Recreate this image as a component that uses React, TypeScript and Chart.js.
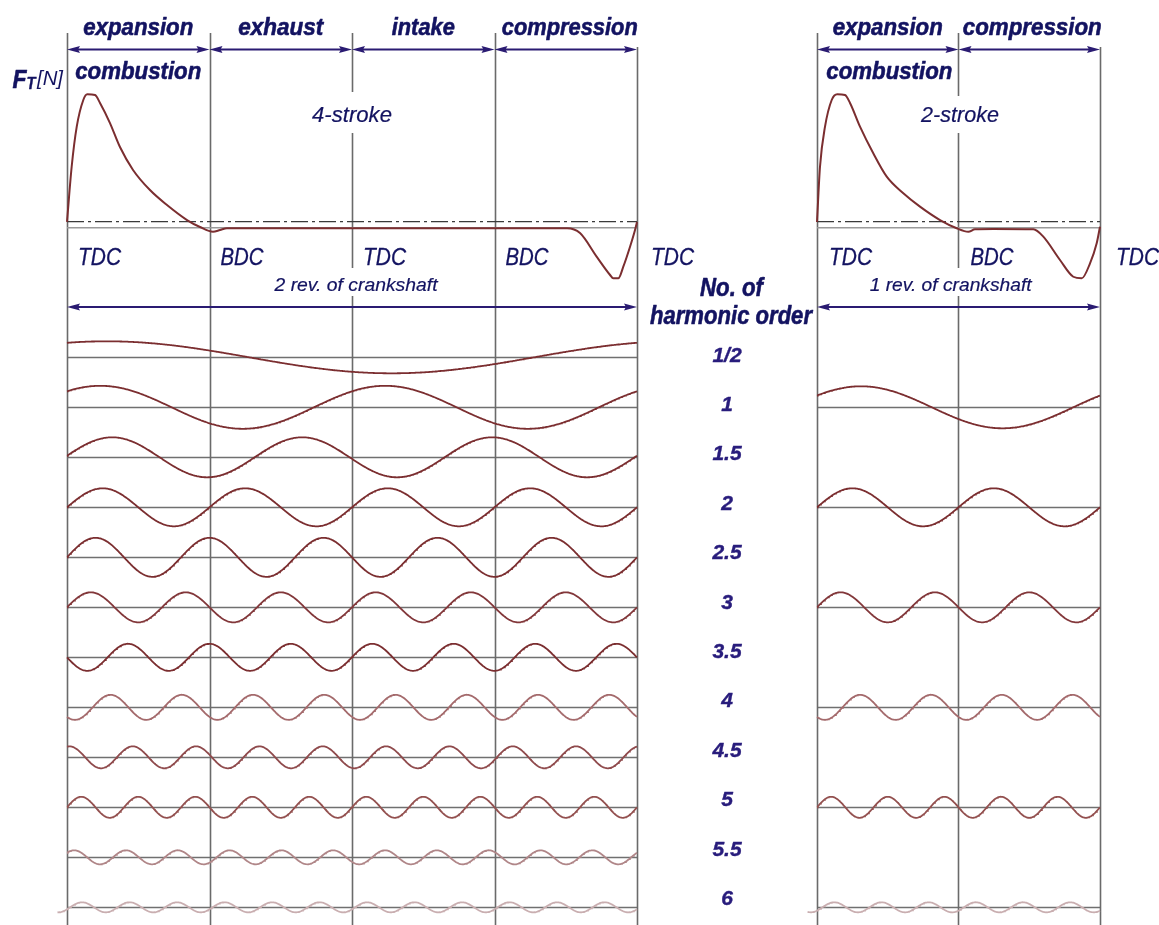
import React, { useEffect, useRef } from 'react';
import { Chart, registerables } from 'chart.js';

Chart.register(...registerables);

// ---- data -------------------------------------------------------------

// dead centres along the crank angle (degrees)
const deadCentres4 = [0, 180, 360, 540, 720];
const deadCentreLabels4 = ['TDC', 'BDC', 'TDC', 'BDC', 'TDC'];
const deadCentres2 = [0, 180, 360];
const deadCentreLabels2 = ['TDC', 'BDC', 'TDC'];

const strokes4 = ['expansion', 'exhaust', 'intake', 'compression'];
const strokes2 = ['expansion', 'compression'];

// tangential force of one cylinder, % of its peak, over the crank angle
const force4Angle = [0, 5.9, 12.3, 20.6, 25.6, 35.4, 41.7, 54.3, 66.9, 83.4, 104.8, 126.3, 151.6, 168, 184.4, 193.3, 202.1, 400, 631.6, 648, 669, 686, 690, 696.4, 702.7, 711.2, 717.5, 720];
const force4Value = [4.3, 45.5, 75.4, 95.3, 99.6, 99.0, 93.1, 78.1, 60.2, 43.1, 28.1, 16.9, 5.7, 0.5, -3.0, -1.7, -0.4, -0.4, -0.4, -4, -21.6, -35.3, -37.8, -37.8, -29.1, -14.2, -1.7, 4.3];

const force2Angle = [0, 3.8, 10.2, 18.7, 25.8, 35.6, 42, 54.7, 71.6, 88.7, 109.8, 131, 156.5, 177.7, 192.5, 201, 224.3, 275.2, 287.9, 309.1, 326, 336.7, 347.3, 355.8, 360];
const force2Value = [4.3, 45.5, 75.4, 95.3, 99.6, 99.0, 93.1, 75.4, 55.5, 38.1, 25.7, 15.7, 5.7, -0.4, -3.0, -1.2, -1.0, -1.2, -6.7, -24.1, -36.6, -37.8, -26.6, -11.6, 0.7];

const meanForce = 4.5;

// harmonic components: order, amplitude (in row heights), crank angle of first crest (deg)
const orders4 = [0.5, 1, 1.5, 2, 2.5, 3, 3.5, 4, 4.5, 5, 5.5, 6];
const orderLabels = ['1/2', '1', '1.5', '2', '2.5', '3', '3.5', '4', '4.5', '5', '5.5', '6'];
const amplitude4 = [0.32, 0.43, 0.4, 0.38, 0.39, 0.3, 0.27, 0.25, 0.22, 0.21, 0.14, 0.1];
const crest4 = [50, 42, 57, 45, 36, 30, 77, 55, 83, 18, 9, 19];

const orders2 = [1, 2, 3, 4, 5, 6];
const amplitude2 = [0.42, 0.38, 0.3, 0.25, 0.21, 0.1];
const crest2 = [56, 45, 30, 55, 18, 22];

// ---- layout -----------------------------------------------------------

const W = 1159;
const H = 925;
const L0 = 67; // 4-stroke panel, TDC .. TDC
const L1 = 637;
const R0 = 817; // 2-stroke panel
const R1 = 1100;
const ZERO_Y = 227.7; // force zero line
const PEAK_Y = 93.7; // force = 100 %
const ROW0_Y = 357.3; // first harmonic baseline
const ROW_STEP = 50;

const HEAD = '#131361';
const NUM = '#281c7c';
const ARROW = '#2a1b72';
const CURVE = '#7b2e30';
const FRAME = '#6a6a6a';

const rowColours4 = ['#7b2e30', '#7b2e30', '#7b2e30', '#7b2e30', '#7b2e30', '#82373a', '#7b2e30', '#a46a6c', '#8f4a4c', '#93504f', '#b08688', '#c9aeb0'];
const rowColours2 = ['#7b2e30', '#7b2e30', '#82373a', '#a46a6c', '#93504f', '#c9aeb0'];

const fontFamily = '"Liberation Sans", Arial, sans-serif';

function sinusoid(order: number, amp: number, crest: number, row: number, from: number, to: number) {
  const pts: { x: number; y: number }[] = [];
  for (let a = from; a <= to + 1e-9; a += 1) {
    pts.push({ x: a, y: -row + amp * Math.cos((order * (a - crest) * Math.PI) / 180) });
  }
  return pts;
}

function drawText(
  ctx: CanvasRenderingContext2D,
  text: string,
  x: number,
  y: number,
  font: string,
  color: string,
  align: 'left' | 'center',
  width?: number,
  weight = 0
) {
  ctx.save();
  ctx.font = font;
  ctx.fillStyle = color;
  ctx.strokeStyle = color;
  ctx.textBaseline = 'alphabetic';
  ctx.textAlign = 'left';
  const natural = ctx.measureText(text).width;
  const w = width ?? natural;
  const left = align === 'center' ? x - w / 2 : x;
  ctx.translate(left, y);
  ctx.scale(w / natural, 1);
  ctx.fillText(text, 0, 0);
  if (weight > 0) {
    ctx.lineWidth = weight;
    ctx.lineJoin = 'round';
    ctx.strokeText(text, 0, 0);
  }
  ctx.restore();
}

function arrowHead(ctx: CanvasRenderingContext2D, x: number, y: number, dir: number) {
  const len = 13;
  const half = 3.6;
  ctx.beginPath();
  ctx.moveTo(x, y);
  ctx.lineTo(x - dir * len, y - half);
  ctx.lineTo(x - dir * len * 0.85, y);
  ctx.lineTo(x - dir * len, y + half);
  ctx.closePath();
  ctx.fill();
}

function doubleArrow(ctx: CanvasRenderingContext2D, x0: number, x1: number, y: number) {
  ctx.save();
  ctx.strokeStyle = ARROW;
  ctx.fillStyle = ARROW;
  ctx.lineWidth = 2;
  ctx.beginPath();
  ctx.moveTo(x0 + 6, y);
  ctx.lineTo(x1 - 6, y);
  ctx.stroke();
  arrowHead(ctx, x0, y, -1);
  arrowHead(ctx, x1, y, 1);
  ctx.restore();
}

const framePlugin = {
  id: 'engineFrame',
  beforeDatasetsDraw(chart: any) {
    const { ctx, scales } = chart;
    const xL = scales.xL;
    const xR = scales.xR;
    const yH = scales.yH;
    ctx.save();
    ctx.lineWidth = 1.6;
    // harmonic baselines
    ctx.strokeStyle = '#707070';
    orders4.forEach((_, i) => {
      const y = Math.round(yH.getPixelForValue(-i)) + 0.5;
      ctx.beginPath();
      ctx.moveTo(xL.getPixelForValue(0), y);
      ctx.lineTo(xL.getPixelForValue(720), y);
      ctx.stroke();
    });
    orders2.forEach((k) => {
      const y = Math.round(yH.getPixelForValue(-(2 * k - 1))) + 0.5;
      ctx.beginPath();
      ctx.moveTo(xR.getPixelForValue(0), y);
      ctx.lineTo(xR.getPixelForValue(360), y);
      ctx.stroke();
    });
    // dead-centre verticals, broken where a caption crosses them
    ctx.strokeStyle = FRAME;
    const vertical = (x: number, top: number, gaps: number[][]) => {
      let y = top;
      const px = Math.round(x) + 0.5;
      [...gaps, [H, H]].forEach(([g0, g1]) => {
        ctx.beginPath();
        ctx.moveTo(px, y);
        ctx.lineTo(px, g0);
        ctx.stroke();
        y = g1;
      });
    };
    deadCentres4.forEach((a) => {
      const top = a === 720 ? 47 : 33;
      const gaps = a === 360 ? [[92, 133], [268, 296]] : [];
      vertical(xL.getPixelForValue(a), top, gaps);
    });
    deadCentres2.forEach((a) => {
      const top = a === 360 ? 47 : 33;
      const gaps = a === 180 ? [[96, 133], [268, 296]] : [];
      vertical(xR.getPixelForValue(a), top, gaps);
    });
    ctx.restore();
  },
  afterDatasetsDraw(chart: any) {
    const { ctx, scales } = chart;
    const xL = scales.xL;
    const xR = scales.xR;
    const bold = (s: number) => `italic bold ${s}px ${fontFamily}`;
    const ital = (s: number) => `italic ${s}px ${fontFamily}`;

    // stroke arrows and names
    const strokeWidths4 = [110, 85, 63, 136];
    strokes4.forEach((name, i) => {
      const a0 = xL.getPixelForValue(deadCentres4[i]);
      const a1 = xL.getPixelForValue(deadCentres4[i + 1]);
      doubleArrow(ctx, a0, a1, 49.5);
      const cx = (a0 + a1) / 2 + (i === 3 ? 4 : 0);
      drawText(ctx, name, cx, 35, bold(24), HEAD, 'center', strokeWidths4[i], 0.6);
    });
    const strokeWidths2 = [110, 139];
    strokes2.forEach((name, i) => {
      const a0 = xR.getPixelForValue(deadCentres2[i]);
      const a1 = xR.getPixelForValue(deadCentres2[i + 1]);
      doubleArrow(ctx, a0, a1, 49.5);
      const cx = (a0 + a1) / 2 + (i === 1 ? 3 : 0);
      drawText(ctx, name, cx, 35, bold(24), HEAD, 'center', strokeWidths2[i], 0.6);
    });
    drawText(ctx, 'combustion', xL.getPixelForValue(90), 79, bold(24), HEAD, 'center', 126, 0.6);
    drawText(ctx, 'combustion', xR.getPixelForValue(92), 79, bold(24), HEAD, 'center', 126, 0.6);

    // force axis title
    drawText(ctx, 'F', 12.5, 87.5, bold(26), HEAD, 'left', 14, 0.6);
    drawText(ctx, 'T', 26.5, 89, bold(16), HEAD, 'left', 9, 0.4);
    drawText(ctx, '[N]', 37, 85, ital(20), HEAD, 'left', 26);

    drawText(ctx, '4-stroke', xL.getPixelForValue(360), 122, ital(22), HEAD, 'center', 80, 0.2);
    drawText(ctx, '2-stroke', xR.getPixelForValue(182), 122, ital(22), HEAD, 'center', 78, 0.2);

    // dead-centre names
    deadCentres4.forEach((a, i) => {
      drawText(ctx, deadCentreLabels4[i], xL.getPixelForValue(a) + 11 + (i === 4 ? 3 : 0), 265, ital(23), HEAD, 'left', 43, 0.3);
    });
    deadCentres2.forEach((a, i) => {
      drawText(ctx, deadCentreLabels2[i], xR.getPixelForValue(a) + 12 + (i === 2 ? 4 : 0), 265, ital(23), HEAD, 'left', 43, 0.3);
    });

    // revolutions
    drawText(ctx, '2 rev. of crankshaft', xL.getPixelForValue(360) + 4, 291, ital(19), HEAD, 'center', 163, 0.2);
    drawText(ctx, '1 rev. of crankshaft', xR.getPixelForValue(170), 291, ital(19), HEAD, 'center', 162, 0.2);
    doubleArrow(ctx, xL.getPixelForValue(0), xL.getPixelForValue(720), 307);
    doubleArrow(ctx, xR.getPixelForValue(0), xR.getPixelForValue(360), 307);

    // harmonic order column
    drawText(ctx, 'No. of', 731.5, 296, bold(26), HEAD, 'center', 63, 0.6);
    drawText(ctx, 'harmonic order', 731, 324, bold(26), HEAD, 'center', 162, 0.6);
    orderLabels.forEach((t, i) => {
      drawText(ctx, t, 727, 361.5 + 49.4 * i, bold(21), NUM, 'center', undefined, 0.4);
    });
  },
};

export default function App() {
  const canvasRef = useRef<HTMLCanvasElement | null>(null);

  useEffect(() => {
    const canvas = canvasRef.current;
    if (!canvas) return;

    const pxPerDeg4 = (L1 - L0) / 720;
    const pxPerDeg2 = (R1 - R0) / 360;
    const pxPerForce = (ZERO_Y - PEAK_Y) / 100;

    const line = (data: any[], xAxisID: string, yAxisID: string, color: string, width: number, order: number, extra: any = {}) => ({
      data,
      xAxisID,
      yAxisID,
      borderColor: color,
      borderWidth: width,
      pointRadius: 0,
      fill: false,
      tension: 0,
      order,
      ...extra,
    });

    const datasets: any[] = [];
    datasets.push(
      line(force4Angle.map((a, i) => ({ x: a, y: force4Value[i] })), 'xL', 'yF', CURVE, 2, 0, { cubicInterpolationMode: 'monotone' })
    );
    datasets.push(
      line(force2Angle.map((a, i) => ({ x: a, y: force2Value[i] })), 'xR', 'yF', CURVE, 2, 0, { cubicInterpolationMode: 'monotone' })
    );
    // zero and mean lines of the force
    datasets.push(line([{ x: 0, y: 0 }, { x: 720, y: 0 }], 'xL', 'yF', '#9a9a9a', 1.5, 3));
    datasets.push(line([{ x: 0, y: 0 }, { x: 360, y: 0 }], 'xR', 'yF', '#9a9a9a', 1.5, 3));
    datasets.push(line([{ x: 0, y: meanForce }, { x: 720, y: meanForce }], 'xL', 'yF', '#3a3a3a', 1.2, 2, { borderDash: [17, 4, 3, 4] }));
    datasets.push(line([{ x: 0, y: meanForce }, { x: 360, y: meanForce }], 'xR', 'yF', '#3a3a3a', 1.2, 2, { borderDash: [17, 4, 3, 4] }));

    orders4.forEach((k, i) => {
      const from = k === 6 ? -12 : 0;
      datasets.push(line(sinusoid(k, amplitude4[i], crest4[i], i, from, 720), 'xL', 'yH', rowColours4[i], 1.8, 1));
    });
    orders2.forEach((k, i) => {
      const from = k === 6 ? -12 : 0;
      datasets.push(line(sinusoid(k, amplitude2[i], crest2[i], 2 * k - 1, from, 360), 'xR', 'yH', rowColours2[i], 1.8, 1));
    });

    const chart = new Chart(canvas, {
      type: 'line',
      data: { datasets },
      options: {
        animation: false,
        responsive: false,
        devicePixelRatio: 1,
        layout: { padding: 0 },
        events: [],
        plugins: { legend: { display: false }, tooltip: { enabled: false } },
        scales: {
          xL: { type: 'linear', display: false, min: -L0 / pxPerDeg4, max: (W - L0) / pxPerDeg4 },
          xR: { type: 'linear', display: false, min: -R0 / pxPerDeg2, max: (W - R0) / pxPerDeg2 },
          yF: { type: 'linear', display: false, min: (ZERO_Y - H) / pxPerForce, max: ZERO_Y / pxPerForce },
          yH: { type: 'linear', display: false, min: (ROW0_Y - H) / ROW_STEP, max: ROW0_Y / ROW_STEP },
        },
      } as any,
      plugins: [framePlugin],
    });

    return () => chart.destroy();
  }, []);

  return (
    <div style={{ position: 'absolute', left: 0, top: 0, width: W, height: H, background: '#fff' }}>
      <canvas ref={canvasRef} width={W} height={H} style={{ display: 'block' }} />
    </div>
  );
}
